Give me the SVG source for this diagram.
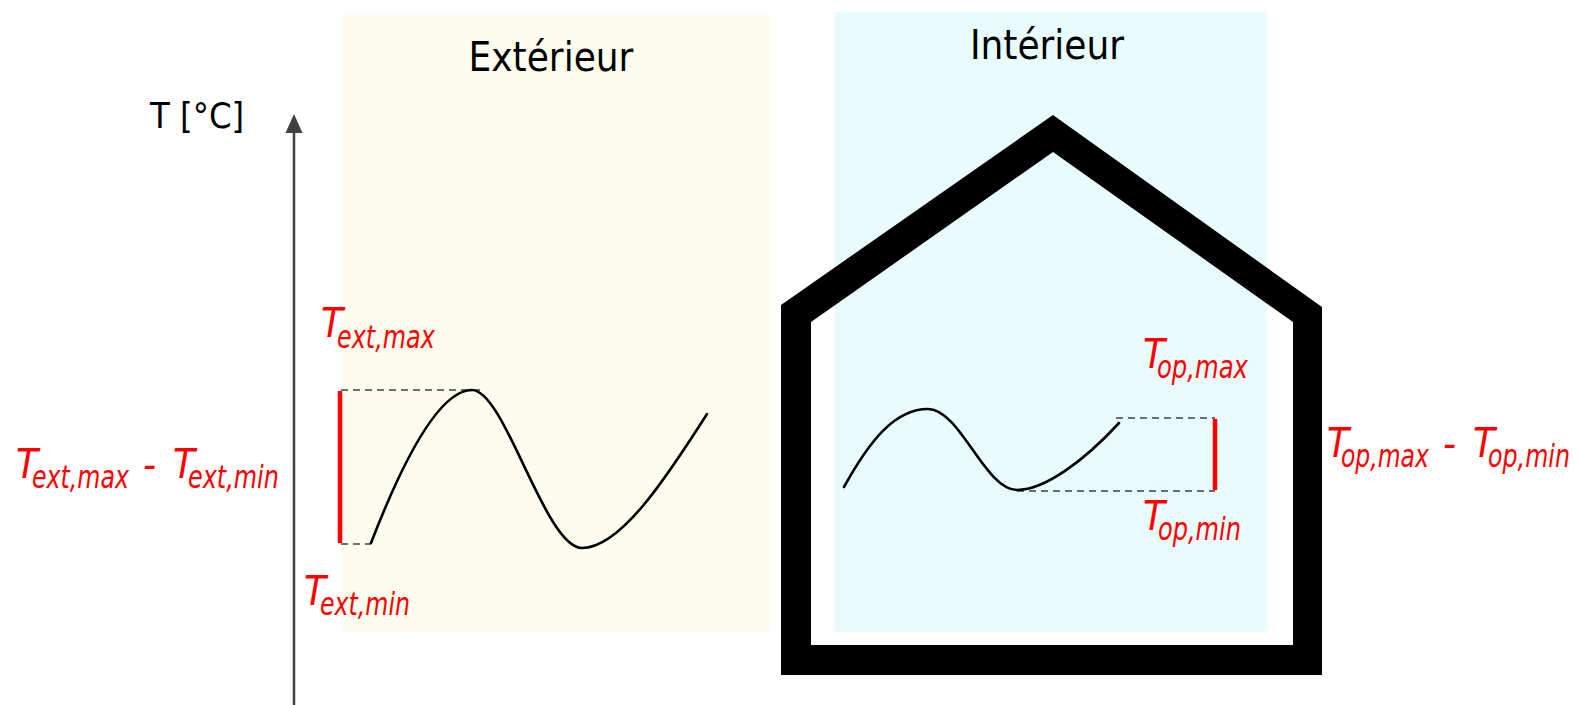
<svg xmlns="http://www.w3.org/2000/svg" width="1580" height="705" viewBox="0 0 1580 705">
  <style>
    .title { font-family: "DejaVu Sans Condensed", "DejaVu Sans", sans-serif; font-size: 40px; fill: #000; }
    .axislbl { font-family: "DejaVu Sans Condensed", "DejaVu Sans", sans-serif; font-size: 36px; fill: #000; }
    .red { font-family: "DejaVu Sans Condensed", "DejaVu Sans", sans-serif; font-style: italic; font-size: 40px; fill: #ff0000; }
    .sub { font-family: "DejaVu Sans Condensed", "DejaVu Sans", sans-serif; font-style: italic; font-size: 32px; fill: #ff0000; }
    .dash { stroke: #404040; stroke-width: 1.6; stroke-dasharray: 7 5; fill: none; }
    .curve { stroke: #000; stroke-width: 2.6; fill: none; stroke-linecap: round; }
    .range { stroke: #ff0000; stroke-width: 4.5; }
  </style>
  <rect width="1580" height="705" fill="#ffffff"/>

  <g id="exterieur-panel">
    <rect x="341" y="15" width="429" height="617" fill="#fdfdef"/>
    <text class="title" x="551" y="71" text-anchor="middle">Extérieur</text>
  </g>

  <g id="interieur-panel">
    <rect x="835" y="12" width="432" height="620" fill="#e8fbfd"/>
    <text class="title" x="1047" y="59" text-anchor="middle">Intérieur</text>
  </g>

  <g id="house">
    <path fill="#000" fill-rule="evenodd" d="M781,305 L1053,115 L1322,307 L1322,675 L781,675 Z M811,322 L1053,152 L1293,322 L1293,645 L811,645 Z"/>
  </g>

  <g id="connectors">
    <line x1="294" y1="705" x2="294" y2="132" stroke="#404040" stroke-width="2.5"/>
    <path d="M294,114 L285.5,133 L302.5,133 Z" fill="#404040"/>
  </g>

  <g id="axis-label">
    <text class="axislbl" x="150" y="128">T [°C]</text>
  </g>

  <g id="exterior-curve">
    <line class="dash" x1="341" y1="390" x2="482" y2="390"/>
    <line class="dash" x1="341" y1="544" x2="371" y2="544"/>
    <line class="range" x1="340" y1="391" x2="340" y2="543"/>
    <path class="curve" d="M371,543 C405,455 440,390 472,390 C505,390 545,548 582,548 C620,548 665,480 707,414"/>
  </g>

  <g id="interior-curve">
    <line class="dash" x1="1116" y1="418" x2="1215" y2="418"/>
    <line class="dash" x1="1017" y1="491" x2="1215" y2="491"/>
    <line class="range" x1="1215" y1="419" x2="1215" y2="490"/>
    <path class="curve" d="M844,487 C870,440 895,409 928,409 C960,409 985,490 1017,490 C1045,490 1085,460 1119,423"/>
  </g>

  <g id="label-ext-max">
    <text class="red" x="321" y="337">T</text>
    <text class="sub" transform="translate(337,348) scale(0.83,1)">ext,max</text>
  </g>
  <g id="label-ext-min">
    <text class="red" x="304" y="605">T</text>
    <text class="sub" transform="translate(320,615) scale(0.822,1)">ext,min</text>
  </g>
  <g id="label-ext-range">
    <text class="red" x="16" y="478">T</text>
    <text class="sub" transform="translate(32,488) scale(0.822,1)">ext,max</text>
    <text class="red" x="143" y="479">-</text>
    <text class="red" x="173" y="478">T</text>
    <text class="sub" transform="translate(188,488) scale(0.831,1)">ext,min</text>
  </g>
  <g id="label-op-max">
    <text class="red" x="1143" y="368">T</text>
    <text class="sub" transform="translate(1157,378) scale(0.844,1)">op,max</text>
  </g>
  <g id="label-op-min">
    <text class="red" x="1143" y="530">T</text>
    <text class="sub" transform="translate(1158,540) scale(0.835,1)">op,min</text>
  </g>
  <g id="label-op-range">
    <text class="red" x="1327" y="457">T</text>
    <text class="sub" transform="translate(1341,467) scale(0.816,1)">op,max</text>
    <text class="red" x="1443" y="458">-</text>
    <text class="red" x="1473" y="457">T</text>
    <text class="sub" transform="translate(1488,467) scale(0.825,1)">op,min</text>
  </g>
</svg>
